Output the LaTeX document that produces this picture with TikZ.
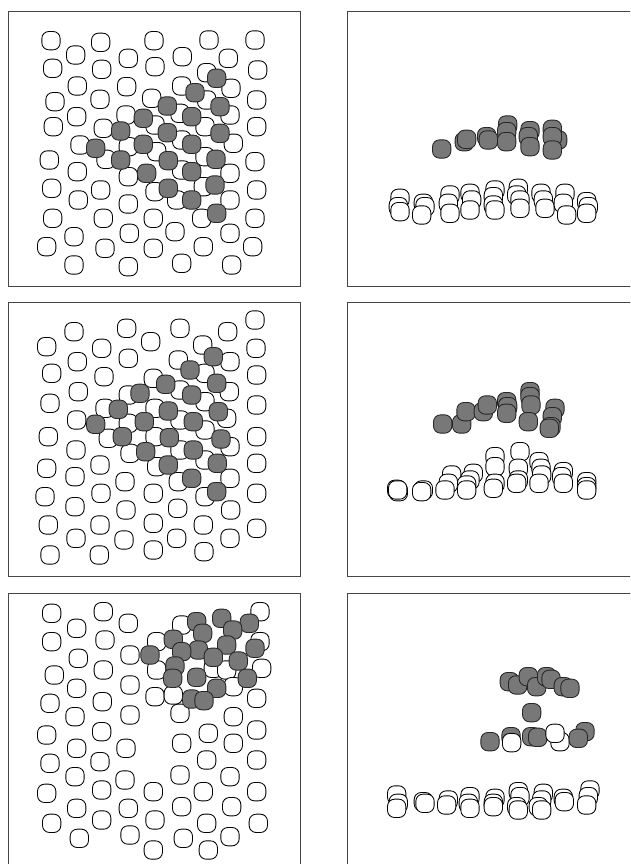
\documentclass[tikz,border=0pt]{standalone}
\usepackage{tikz}
\definecolor{dk}{RGB}{120,120,120}
\definecolor{fr}{RGB}{70,70,70}
\tikzset{
  wsq/.style={draw=black,fill=white,line width=0.85pt,rounded corners=7pt},
  dsq/.style={draw=black!85,fill=dk,line width=0.85pt,rounded corners=7pt},
  frame/.style={draw=fr,line width=0.9pt}
}
\newcommand{\Wsq}[1]{\foreach \x/\y in {#1} {\draw[wsq] (\x-27.5,\y-27.5) rectangle ++(55,55);}}
\newcommand{\Dsq}[1]{\foreach \x/\y in {#1} {\draw[dsq] (\x-27.5,\y-27.5) rectangle ++(55,55);}}
\begin{document}
\begin{tikzpicture}[x=1pt,y=-1pt]
\useasboundingbox (0,0) rectangle (630,864);
\clip (0,0) rectangle (630,864);
% frames
\draw[frame] (8.3,11.7) rectangle (300,286);
\draw[frame] (347.7,11.7) rectangle (640,286);
\draw[frame] (8.3,302.3) rectangle (300,576.7);
\draw[frame] (347.7,302.3) rectangle (640,576.7);
\draw[frame] (8.3,593.3) rectangle (300,880);
\draw[frame] (347.7,593.3) rectangle (640,880);
% ---------- panel 1 left
\begin{scope}[shift={(0,0)},scale=1/3]
\Wsq{153/122,158/205,165/305,160/380,148/480,155/565,158/655,140/740,
227/165,232/258,230/350,240/435,232/515,235/600,222/710,222/795,
302/127,305/208,300/298,310/385,318/478,302/570,310/655,315/745,
385/175,380/260,378/345,385/440,385/530,385/612,388/700,385/800,
462/122,465/200,455/295,465/375,470/455,465/575,460/655,460/745,
547/170,545/258,540/340,545/420,545/510,530/600,525/695,545/790,
627/120,620/218,620/300,615/380,615/470,610/560,605/655,610/740,
685/175,693/265,690/345,700/430,690/520,690/600,690/700,695/795,
765/120,773/210,770/300,770/380,765/485,770/570,765/655,758/740}
\Dsq{650/235,585/278,660/320,502/318,575/350,430/355,660/400,362/393,502/398,575/433,430/433,287/445,648/478,362/480,505/482,575/515,440/520,645/555,505/565,575/600,650/640}
\end{scope}
% ---------- panel 1 right
\begin{scope}[shift={(315,0)},scale=1/3]
\Dsq{380/447,448/425,455/418,515/410,520/420,578/375,575/395,575/425,645/392,640/410,645/440,728/420,712/388,712/410,712/450}
\Wsq{255/595,250/620,255/635,325/610,330/620,320/645,405/585,400/610,405/640,465/580,470/600,465/630,540/570,535/590,535/615,540/630,610/565,605/585,615/600,615/625,678/580,685/600,690/625,750/580,745/610,755/645,815/605,820/620,815/640}
\end{scope}
% ---------- panel 2 left
\begin{scope}[shift={(0,290)},scale=1/3]
\Wsq{140/170,155/250,150/340,145/440,140/535,135/620,145/705,150/795,
222/125,232/215,235/305,230/390,228/480,225/560,225/650,228/745,
305/175,312/260,315/355,325/445,300/525,303/610,300/705,298/795,
380/115,385/205,385/315,385/400,390/490,375/575,378/660,372/750,
452/155,460/265,465/355,465/440,470/530,460/610,460/700,460/780,
540/115,535/210,540/300,540/390,540/480,535/575,533/655,530/745,
608/165,615/250,615/335,615/420,615/510,615/620,610/705,612/785,
683/125,690/215,688/305,680/385,690/470,690/565,692/660,690/745,
765/90,768/175,770/255,770/345,770/440,770/520,770/610,770/715}
\Dsq{640/200,570/240,650/280,497/283,575/315,420/310,655/365,355/358,505/363,580/395,433/395,287/403,663/447,367/440,508/443,580/480,437/485,652/520,505/525,575/565,650/605}
\end{scope}
% ---------- panel 2 right
\begin{scope}[shift={(315,290)},scale=1/3]
\Dsq{383/402,440/402,453/365,505/365,517/345,575/335,578/350,575/370,645/305,645/320,648/345,640/395,720/355,712/380,708/410,703/415}
\Wsq{245/598,250/605,248/600,325/600,320/605,410/555,400/580,390/600,475/550,465/570,455/585,455/600,540/500,540/530,540/580,535/595,615/485,610/535,610/570,605/580,672/515,678/535,680/555,672/580,745/545,740/560,745/580,815/575,815/590,815/600}
\end{scope}
% ---------- panel 3 left
\begin{scope}[shift={(0,580)},scale=1/3]
\Wsq{155/100,155/185,163/285,150/370,140/465,150/550,140/640,155/730,
230/145,235/235,230/325,225/410,230/505,225/590,230/685,238/775,
310/95,315/180,310/270,307/365,305/455,300/545,305/630,305/720,
385/130,390/225,390/315,390/405,378/505,375/600,385/685,390/765,
470/185,470/270,465/350,460/635,465/720,460/810,
545/135,520/345,540/400,545/490,540/585,545/680,550/775,
640/265,680/270,
625/460,620/540,610/635,620/730,625/810,
700/320,700/410,700/490,690/590,695/680,690/770,
780/95,780/185,785/265,770/355,770/450,770/540,770/635,775/730}
\Dsq{665/115,590/125,748/130,608/160,698/150,520/178,680/195,765/205,595/210,450/225,545/215,640/232,715/243,525/258,518/295,590/292,742/295,650/325,575/357,612/362}
\end{scope}
% ---------- panel 3 right
\begin{scope}[shift={(315,580)},scale=1/3]
\Dsq{583/305,608/315,640/290,665/320,695/290,708/298,745/320,765/325,650/398,525/485,588/470}
\Wsq{590/488}
\Dsq{650/470,668/472}
\Wsq{735/485,720/460}
\Dsq{810/455,790/475}
\Wsq{245/645,250/670,245/685,325/665,330/670,400/660,395/675,465/650,460/670,465/685,540/655,535/670,535/680,610/635,615/650,605/680,610/690,685/640,680/660,670/680,680/690,745/655,748/665,825/630,820/650,815/675}
\end{scope}
\end{tikzpicture}
\end{document}
